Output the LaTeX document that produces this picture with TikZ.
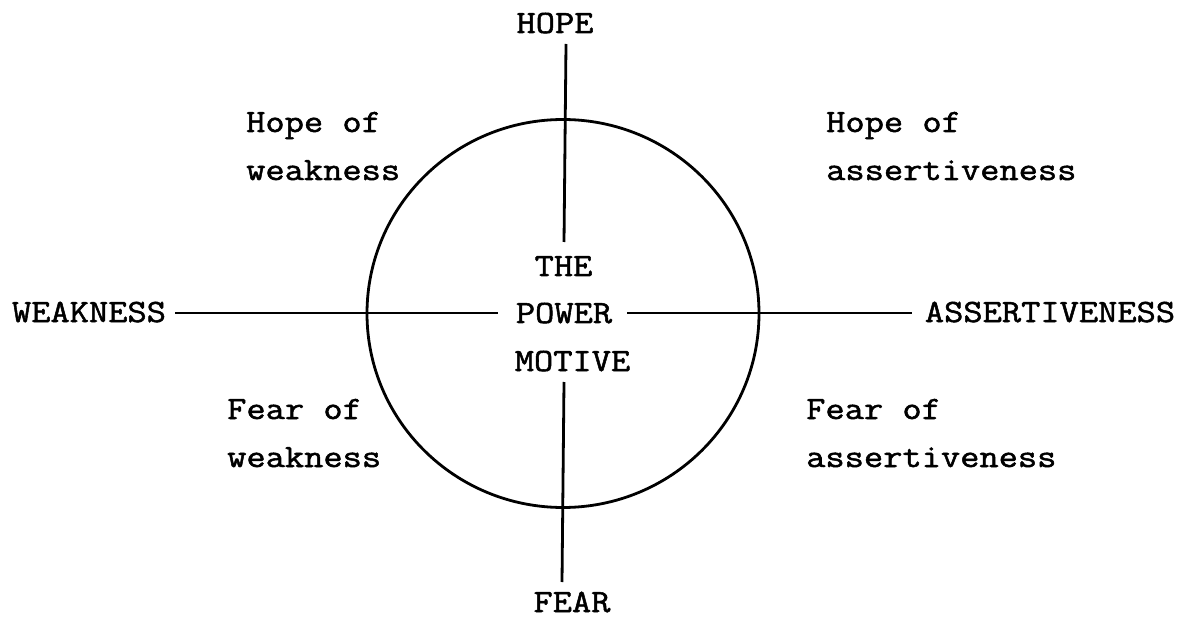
\documentclass[tikz,border=0pt]{standalone}
\usepackage{fontspec}
\setmonofont{Latin Modern Mono}[FakeStretch=1.15,FakeBold=1.6]
\begin{document}
\begin{tikzpicture}[x=1pt,y=-1pt,
  lbl/.style={font=\ttfamily\fontsize{32.5}{48}\selectfont, inner sep=0pt},
  quad/.style={lbl, align=left, anchor=base west},
  ln/.style={line width=2.8pt, line cap=butt}]
\useasboundingbox (0,0) rectangle (1190,617);
% axis labels
\node[lbl,anchor=base] (hope)   at (555,33)    {HOPE};
\node[lbl,anchor=base] (fear)   at (572,612)   {FEAR};
\node[lbl,anchor=base] (weak)   at (89,322)    {WEAKNESS};
\node[lbl,anchor=base] (assert) at (1050,322)  {ASSERTIVENESS};
% centre labels
\node[lbl,anchor=base] (the)    at (563.5,276) {THE};
\node[lbl,anchor=base] (power)  at (564,323)   {POWER};
\node[lbl,anchor=base] (motive) at (572.5,371) {MOTIVE};
% quadrant labels (anchor at baseline of the last line)
\node[quad] (hw) at (246,180) {Hope of\\weakness};
\node[quad] (ha) at (826,180) {Hope of\\assertiveness};
\node[quad] (fw) at (227,467) {Fear of\\weakness};
\node[quad] (fa) at (806,467) {Fear of\\assertiveness};
% circle
\coordinate (c) at (563,313.5);
\draw[ln] (c) ellipse [x radius=196pt, y radius=194pt];
% axis end points
\coordinate (vt1) at (566,44);
\coordinate (vt2) at (564,242);
\coordinate (vb1) at (564,382);
\coordinate (vb2) at (562,582);
\coordinate (hl1) at (175,313);
\coordinate (hl2) at (498,313);
\coordinate (hr1) at (627,313);
\coordinate (hr2) at (912,313);
\draw[ln] (vt1) -- (vt2);
\draw[ln] (vb1) -- (vb2);
\draw[ln] (hl1) -- (hl2);
\draw[ln] (hr1) -- (hr2);
\end{tikzpicture}
\end{document}
